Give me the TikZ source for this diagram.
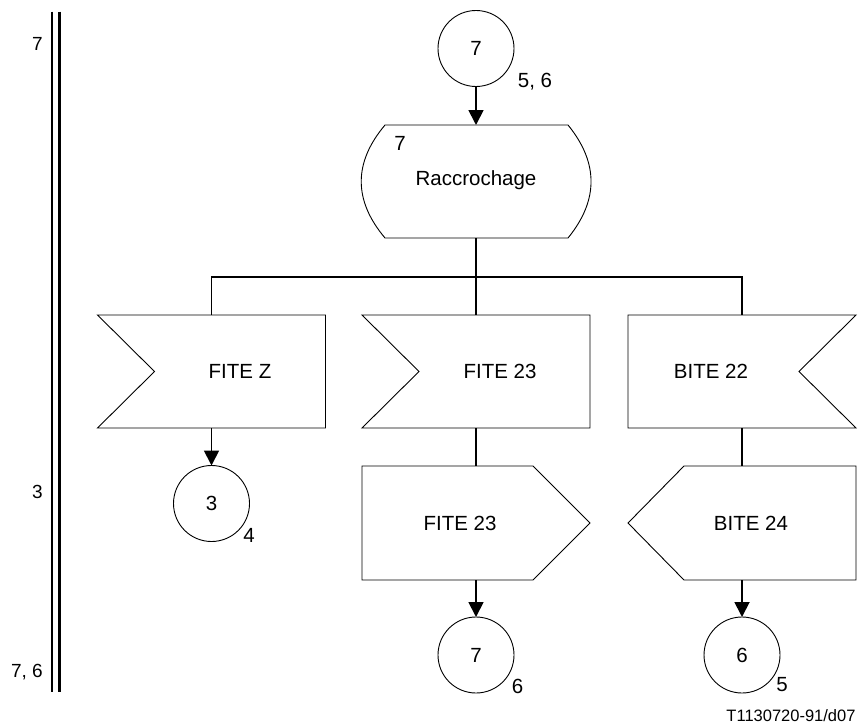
\documentclass[tikz,border=0pt]{standalone}
\usepackage{fontspec}
\setmainfont{Liberation Sans}
\usetikzlibrary{arrows.meta}
\begin{document}
\begin{tikzpicture}[x=1pt,y=-1pt,
  conn/.style={line width=1.8pt},
  arr/.style={line width=1.8pt,-{Triangle[length=15pt,width=15pt]}},
  outline/.style={line width=0.9pt},
  conncirc/.style={circle,draw,line width=0.9pt,minimum size=76pt,inner sep=0pt,outer sep=0pt,font=\fontsize{20.5}{24}\selectfont},
  box/.style={rectangle,minimum width=228pt,minimum height=113pt,inner sep=0pt,outer sep=0pt},
  lbl/.style={font=\fontsize{20.5}{24}\selectfont,inner sep=0pt,anchor=base},
  small/.style={font=\fontsize{16.5}{19}\selectfont,inner sep=0pt},
  side/.style={font=\fontsize{19}{22}\selectfont,inner sep=0pt,anchor=base east},
  rule/.style={line width=2.5pt}
]
\useasboundingbox (0,0) rectangle (858,725);

% left double rule
\coordinate (r1t) at (52,11.7);
\coordinate (r1b) at (52,691.7);
\coordinate (r2t) at (59.5,11.7);
\coordinate (r2b) at (59.5,691.7);
\draw[rule] (r1t) -- (r1b);
\draw[rule] (r2t) -- (r2b);
\node[side] (lv7) at (43,51) {7};
\node[side] (lv3) at (43,498) {3};
\node[side] (lv76) at (43,677) {7, 6};

% top connector
\node[conncirc] (c7top) at (476,48.5) {7};
\node[lbl] (l56) at (535,87) {5, 6};

% state
\node[box] (rac) at (476,181.5) {};
\draw[outline] (385,125) -- (568,125) .. controls (598.7,162.7) and (598.7,200.3) .. (568,238)
  -- (385,238) .. controls (353.3,200.3) and (353.3,162.7) .. cycle;
\node[lbl] (racnum) at (400,150) {7};
\node[lbl] (racname) at (476,185) {Raccrochage};
\draw[arr] (c7top) -- (rac.north);

% inputs
\node[box] (fz) at (211.5,371.5) {};
\draw[outline] (fz.north west) -- (fz.north east) -- (fz.south east) -- (fz.south west) -- ([xshift=57pt]fz.west) -- cycle;
\node[lbl] (fzt) at (240,378) {FITE Z};

\node[box] (fi23) at (476,371.5) {};
\draw[outline] (fi23.north west) -- (fi23.north east) -- (fi23.south east) -- (fi23.south west) -- ([xshift=57pt]fi23.west) -- cycle;
\node[lbl] (fi23t) at (500,378) {FITE 23};

\node[box] (bi22) at (742,371.5) {};
\draw[outline] (bi22.north west) -- (bi22.north east) -- ([xshift=-57pt]bi22.east) -- (bi22.south east) -- (bi22.south west) -- cycle;
\node[lbl] (bi22t) at (711,378) {BITE 22};

% branching
\coordinate (bus) at (476,277);
\draw[conn] (rac.south) -- (fi23.north);
\draw[conn] (fz.north) |- (bus) -| (bi22.north);

% outputs
\node[box,minimum height=114pt] (fo23) at (476,523) {};
\draw[outline] (fo23.north west) -- ([xshift=-57pt]fo23.north east) -- (fo23.east) -- ([xshift=-57pt]fo23.south east) -- (fo23.south west) -- cycle;
\node[lbl] (fo23t) at (460,530) {FITE 23};
\draw[conn] (fi23.south) -- (fo23.north);

\node[box,minimum height=114pt] (bo24) at (742,523) {};
\draw[outline] ([xshift=56pt]bo24.north west) -- (bo24.north east) -- (bo24.south east) -- ([xshift=56pt]bo24.south west) -- (bo24.west) -- cycle;
\node[lbl] (bo24t) at (751,530) {BITE 24};
\draw[conn] (bi22.south) -- (bo24.north);

% end connectors
\node[conncirc] (c3) at (211.5,503.5) {3};
\draw[arr] (fz.south) -- (c3.north);
\node[lbl] (l4) at (249,542) {4};

\node[conncirc] (c7b) at (476,655) {7};
\draw[arr] (fo23.south) -- (c7b.north);
\node[lbl] (l6) at (517.5,693) {6};

\node[conncirc] (c6) at (742,655) {6};
\draw[arr] (bo24.south) -- (c6.north);
\node[lbl] (l5) at (782,691) {5};

\node[small,anchor=base] (ref) at (791,721) {T1130720-91/d07};
\end{tikzpicture}
\end{document}
